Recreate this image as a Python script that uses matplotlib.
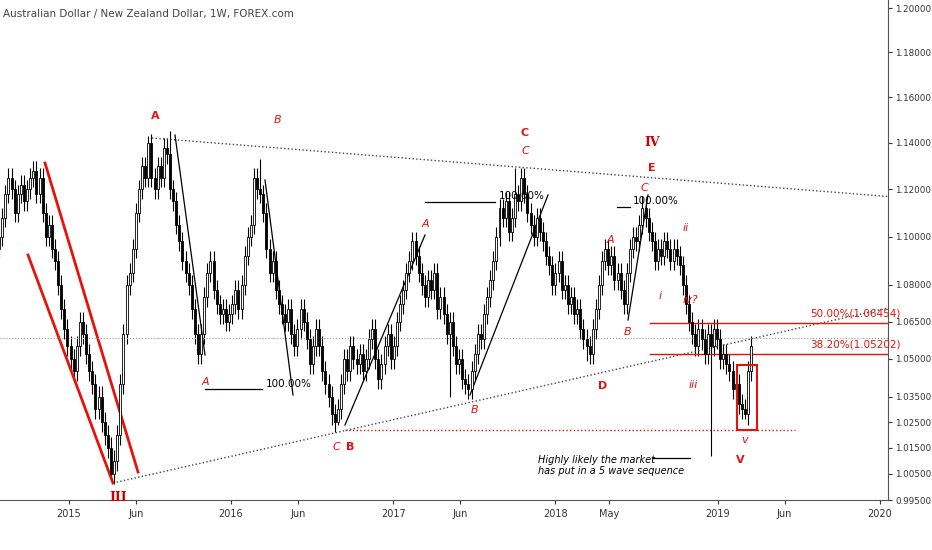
import numpy as np
import pandas as pd
import matplotlib
matplotlib.use("Agg")
import matplotlib.pyplot as plt
import matplotlib.dates as mdates

start_date = "2014-07-21"
closes = [
 1.095,1.100,1.108,1.118,1.125,1.120,1.110,1.118,1.122,1.115,
 1.120,1.125,1.128,1.118,1.125,1.110,1.100,1.105,1.095,1.090,
 1.080,1.070,1.062,1.055,1.050,1.045,1.055,1.065,1.060,1.052,
 1.045,1.040,1.030,1.035,1.025,1.020,1.015,1.005,1.010,1.020,
 1.040,1.060,1.080,1.085,1.095,1.110,1.120,1.130,1.125,1.140,
 1.125,1.120,1.130,1.125,1.138,1.135,1.120,1.115,1.105,1.098,
 1.090,1.085,1.080,1.070,1.060,1.052,1.060,1.075,1.085,1.090,
 1.078,1.072,1.068,1.070,1.065,1.068,1.072,1.078,1.070,1.080,
 1.092,1.100,1.105,1.125,1.120,1.118,1.110,1.095,1.085,1.090,
 1.078,1.072,1.068,1.065,1.070,1.060,1.055,1.062,1.070,1.065,
 1.058,1.048,1.055,1.062,1.055,1.045,1.040,1.035,1.028,1.025,
 1.030,1.040,1.050,1.045,1.055,1.050,1.048,1.052,1.045,1.050,
 1.058,1.062,1.050,1.042,1.048,1.055,1.060,1.050,1.055,1.065,
 1.072,1.078,1.085,1.090,1.098,1.092,1.085,1.080,1.075,1.082,
 1.078,1.085,1.070,1.075,1.068,1.060,1.065,1.055,1.048,1.050,
 1.042,1.040,1.038,1.045,1.052,1.060,1.058,1.068,1.075,1.082,
 1.090,1.100,1.112,1.108,1.115,1.102,1.108,1.118,1.115,1.125,
 1.118,1.110,1.105,1.100,1.108,1.102,1.098,1.092,1.088,1.080,
 1.085,1.090,1.078,1.080,1.072,1.075,1.068,1.070,1.062,1.058,
 1.055,1.052,1.062,1.070,1.080,1.090,1.095,1.088,1.092,1.082,
 1.085,1.078,1.072,1.085,1.095,1.100,1.098,1.105,1.112,1.108,
 1.102,1.098,1.090,1.095,1.092,1.098,1.095,1.090,1.095,1.092,
 1.088,1.080,1.072,1.065,1.060,1.055,1.062,1.058,1.052,1.060,
 1.055,1.062,1.058,1.050,1.052,1.048,1.045,1.038,1.040,1.032,
 1.030,1.028,1.045,1.055]
high_extremes = {49: 1.143, 56: 1.145, 85: 1.133, 167: 1.129, 208: 1.117}
low_extremes = {37: 1.003, 110: 1.024, 146: 1.035, 190: 1.049, 230: 1.012, 241: 1.026}

fib_levels = [1.06454, 1.05202]
fib_labels = ["50.00%(1.06454)", "38.20%(1.05202)"]
yticks = [1.20, 1.18, 1.16, 1.14, 1.12, 1.10, 1.08, 1.065, 1.05, 1.035, 1.025, 1.015, 1.005, 0.995]

W, H = 932, 550
fig = plt.figure(figsize=(W/100, H/100), dpi=100)
ax = fig.add_axes([0, 1-500/H, 888/W, 500/H])

dates = pd.date_range(start_date, periods=len(closes), freq="W-MON")
x = mdates.date2num(dates)
c = np.array(closes)
o = np.r_[c[0]-0.004, c[:-1]]
hi = np.maximum(o, c) + 0.004
lo = np.minimum(o, c) - 0.004
for k, v in high_extremes.items(): hi[k] = v
for k, v in low_extremes.items(): lo[k] = v

ax.vlines(x, lo, hi, color="black", lw=0.8, zorder=2)
up = c >= o
bw = 4.5
ax.bar(x[up], (c-o)[up], bottom=o[up], width=bw, color="white", edgecolor="black", lw=0.6, zorder=3)
ax.bar(x[~up], (o-c)[~up], bottom=c[~up], width=bw, color="black", edgecolor="black", lw=0.6, zorder=3)

ax.set_yscale("log")
ax.set_ylim(0.9971, 1.2038)
ax.set_xlim(mdates.datestr2num("2014-07-30"), mdates.datestr2num("2020-01-20"))
ax.yaxis.tick_right()
ax.set_yticks(yticks)
ax.set_yticklabels([f"{t:.5f}" for t in yticks])
ax.yaxis.set_minor_locator(matplotlib.ticker.NullLocator())
xt = ["2015-01-01","2015-06-01","2016-01-01","2016-06-01","2017-01-01","2017-06-01","2018-01-01","2018-05-01","2019-01-01","2019-06-01","2020-01-01"]
ax.set_xticks(mdates.datestr2num(xt))
ax.set_xticklabels(["2015","Jun","2016","Jun","2017","Jun","2018","May","2019","Jun","2020"])
ax.tick_params(axis="x", labelsize=7, colors="#333333", length=3)
ax.tick_params(axis="y", labelsize=6.3, colors="#333333", length=3, pad=2)
for s in ["top","left"]: ax.spines[s].set_visible(False)
ax.spines["right"].set_color("#555")
ax.spines["bottom"].set_color("#555")

def P(px, py):
    return ax.transData.inverted().transform((px, H - py))

def line(p1, p2, **kw):
    a, b = P(*p1), P(*p2)
    ax.plot([a[0], b[0]], [a[1], b[1]], **kw)

def txt(px, py, s, ha="center", **kw):
    a = P(px, py)
    ax.text(a[0], a[1], s, ha=ha, va="center", **kw)

red = "#e8120c"
line((152,138),(932,200), color="#444", ls=":", lw=1)
line((113,483),(932,298), color="#444", ls=":", lw=1)
line((45,163),(138,472), color=red, lw=2)
line((28,255),(113,483), color=red, lw=2)
for lvl, lab in zip(fib_levels, fib_labels):
    a = P(650, 0)[0]; b = P(888, 0)[0]
    ax.plot([a, b], [lvl, lvl], color=red, lw=1)
    ax.text(P(810,0)[0], lvl*1.0015, lab, color=red, fontsize=7.5, ha="left", va="bottom")
line((345,430),(795,430), color=red, ls=":", lw=1)
line((0,338),(888,338), color="#999", ls=":", lw=0.8)
r1, r2 = P(737,365), P(757,430)
ax.add_patch(plt.Rectangle((r1[0], r2[1]), r2[0]-r1[0], r1[1]-r2[1], fill=False, ec=red, lw=1.5, zorder=4))
for p1, p2 in [((175,135),(205,355)), ((265,180),(293,395)), ((345,425),(425,235)),
               ((470,395),(548,195)), ((628,320),(648,195)), ((205,389),(262,389)),
               ((425,202),(495,202)), ((617,207),(630,207)), ((652,458),(690,458))]:
    line(p1, p2, color="black", lw=0.9)

rb = dict(color=red, fontsize=8, fontweight="bold")
ri = dict(color=red, fontsize=8, style="italic")
txt(155,116,"A",**rb); txt(278,120,"B",**ri); txt(525,133,"C",**rb); txt(525,151,"C",**ri)
txt(652,143,"IV",color="#c00",fontsize=9,fontweight="bold",family="DejaVu Serif")
txt(652,168,"E",**rb); txt(644,188,"C",**ri); txt(425,224,"A",**ri); txt(610,240,"A",**ri)
txt(686,228,"ii",**ri); txt(660,296,"i",**ri); txt(690,300,"iv?",**ri); txt(628,332,"B",**ri)
txt(205,382,"A",**ri); txt(693,385,"iii",**ri); txt(603,386,"D",**rb); txt(475,410,"B",**ri)
txt(336,447,"C",**ri); txt(350,447,"B",**rb); txt(745,440,"v",**ri); txt(740,460,"V",**rb)
txt(118,497,"III",color="#c00",fontsize=9,fontweight="bold",family="DejaVu Serif")
txt(266,384,"100.00%",ha="left",color="black",fontsize=7.5)
txt(499,196,"100.00%",ha="left",color="black",fontsize=7.5)
txt(633,201,"100.00%",ha="left",color="black",fontsize=7.5)
txt(538,460,"Highly likely the market",ha="left",fontsize=7,style="italic")
txt(538,471,"has put in a 5 wave sequence",ha="left",fontsize=7,style="italic")
txt(3,14,"Australian Dollar / New Zealand Dollar, 1W, FOREX.com",ha="left",fontsize=7.5,color="#444")

fig.savefig("out.png", dpi=100)
